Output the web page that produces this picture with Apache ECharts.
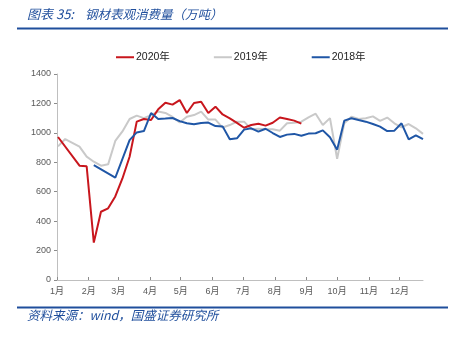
<!DOCTYPE html>
<html>
<head>
<meta charset="utf-8">
<script src="https://cdn.jsdelivr.net/npm/echarts@6/dist/echarts.min.js"></script>
<style>
  html, body { margin: 0; padding: 0; background: #fff; }
  #chart { width: 467px; height: 339px; }
</style>
</head>
<body>
<div id="chart"></div>
<script>
// Weekly apparent steel consumption (10k tonnes), plotted on a shared Jan–Dec calendar
const monthLabels = ['1月', '2月', '3月', '4月', '5月', '6月', '7月', '8月', '9月', '10月', '11月', '12月'];
const yTicks = [0, 200, 400, 600, 800, 1000, 1200, 1400];

const dates2020 = ['01-02', '01-23', '01-30', '02-06', '02-13', '02-20', '02-27', '03-05', '03-12', '03-19',
  '03-26', '04-02', '04-09', '04-16', '04-23', '04-30', '05-07', '05-14', '05-21', '05-28', '06-04',
  '06-11', '06-18', '06-25', '07-02', '07-09', '07-16', '07-23', '07-30', '08-06', '08-13', '08-20', '08-27'];
const values2020 = [972, 777, 773, 254, 464, 487, 568, 690, 838, 1076,
  1094, 1087, 1160, 1205, 1192, 1223, 1135, 1203, 1212, 1135, 1178,
  1125, 1099, 1068, 1035, 1053, 1062, 1049, 1069, 1104, 1094, 1083, 1063];

const dates2019 = ['01-02', '01-09', '01-23', '01-30', '02-06', '02-13', '02-20', '02-27', '03-05', '03-12',
  '03-19', '03-26', '04-02', '04-09', '04-16', '04-23', '04-30', '05-07', '05-14', '05-21', '05-28',
  '06-04', '06-11', '06-18', '06-25', '07-02', '07-09', '07-16', '07-23', '07-30', '08-06', '08-13',
  '08-20', '08-27', '09-03', '09-10', '09-17', '09-24', '10-01', '10-08', '10-15', '10-22', '10-29',
  '11-05', '11-12', '11-19', '11-26', '12-03', '12-10', '12-17', '12-24'];
const values2019 = [908, 958, 906, 838, 804, 777, 786, 945, 1010, 1094,
  1117, 1100, 1121, 1145, 1135, 1108, 1070, 1110, 1121, 1144, 1090,
  1090, 1036, 1053, 1076, 1076, 1025, 1028, 1025, 1025, 1015, 1065,
  1069, 1076, 1105, 1130, 1053, 1100, 824, 1065, 1110, 1094, 1099,
  1112, 1082, 1104, 1065, 1038, 1060, 1031, 993];

const dates2018 = ['02-06', '02-27', '03-12', '03-19', '03-26', '04-02', '04-09', '04-16', '04-23', '04-30',
  '05-07', '05-14', '05-21', '05-28', '06-04', '06-11', '06-18', '06-25', '07-02', '07-09', '07-16',
  '07-23', '07-30', '08-06', '08-13', '08-20', '08-27', '09-03', '09-10', '09-17', '09-24', '10-01',
  '10-08', '10-15', '10-22', '10-29', '11-05', '11-12', '11-19', '11-26', '12-03', '12-10', '12-17', '12-24'];
const values2018 = [780, 695, 951, 1003, 1012, 1135, 1094, 1097, 1101, 1080,
  1065, 1058, 1067, 1070, 1046, 1044, 956, 963, 1022, 1031, 1008,
  1028, 999, 972, 988, 993, 980, 995, 997, 1017, 970, 886,
  1083, 1099, 1087, 1076, 1060, 1042, 1012, 1015, 1065, 956, 983, 957];

const seriesNames = ['2020年', '2019年', '2018年'];
const seriesColors = ['#c8161d', '#c9c9c9', '#1f56a6'];

// every year is laid on the same calendar so the weeks line up
const BASE_YEAR = 2020;
const DAY = 24 * 3600 * 1000;
const yearStart = Date.UTC(BASE_YEAR, 0, 1);
function dayOf(month, day) {
  return (Date.UTC(BASE_YEAR, month - 1, day) - yearStart) / DAY;
}
function toPoints(dates, values) {
  return dates.map(function (md, i) {
    const p = md.split('-');
    return [dayOf(+p[0], +p[1]), values[i]];
  });
}
const monthStarts = monthLabels.map(function (_, i) { return dayOf(i + 1, 1); });

const chart = echarts.init(document.getElementById('chart'), null, { renderer: 'canvas' });
const labelFont = '"Liberation Sans", "Noto Sans CJK SC", sans-serif';
const noteColor = '#1f4e9c';

chart.setOption({
  animation: false,
  backgroundColor: '#ffffff',
  textStyle: { fontFamily: labelFont },
  graphic: [
    { type: 'text', left: 27, top: 8, style: { text: '图表 35:', fill: noteColor, font: 'italic 13px "Noto Sans CJK SC"' } },
    { type: 'text', left: 85, top: 8, style: { text: '钢材表观消费量（万吨）', fill: noteColor, font: 'italic 12.5px "Noto Sans CJK SC"' } },
    { type: 'rect', shape: { x: 17, y: 27.5, width: 431, height: 2 }, style: { fill: noteColor } },
    { type: 'rect', shape: { x: 17, y: 306.5, width: 431, height: 2 }, style: { fill: noteColor } },
    { type: 'text', left: 27, top: 309, style: { text: '资料来源：wind，国盛证券研究所', fill: noteColor, font: 'italic 12.5px "Noto Sans CJK SC"' } }
  ],
  legend: {
    data: seriesNames,
    left: 116,
    top: 52,
    padding: 0,
    itemWidth: 18,
    itemHeight: 2,
    itemGap: 44,
    icon: 'rect',
    textStyle: { fontSize: 10.5, color: '#222', fontFamily: labelFont, padding: [0, 0, 0, -3] }
  },
  grid: { left: 57, right: 44, top: 74, bottom: 59, containLabel: false },
  xAxis: {
    type: 'value',
    min: dayOf(1, 1),
    max: dayOf(12, 24),
    axisLine: { lineStyle: { color: '#bfbfbf', width: 1 } },
    axisTick: { show: true, inside: true, length: 3, customValues: monthStarts, lineStyle: { color: '#8c8c8c' } },
    axisLabel: {
      customValues: monthStarts,
      fontSize: 9,
      color: '#595959',
      margin: 7,
      formatter: function (v) { return monthLabels[monthStarts.indexOf(v)] || ''; }
    },
    splitLine: { show: false }
  },
  yAxis: {
    type: 'value',
    min: yTicks[0],
    max: yTicks[yTicks.length - 1],
    interval: yTicks[1] - yTicks[0],
    axisLine: { show: true, lineStyle: { color: '#bfbfbf', width: 1 } },
    axisTick: { show: true, length: 3, lineStyle: { color: '#8c8c8c' } },
    axisLabel: { fontSize: 9, color: '#595959', margin: 6, formatter: function (v) { return String(v); } },
    splitLine: { show: false }
  },
  series: [
    { name: seriesNames[0], data: toPoints(dates2020, values2020), z: 3 },
    { name: seriesNames[1], data: toPoints(dates2019, values2019), z: 2 },
    { name: seriesNames[2], data: toPoints(dates2018, values2018), z: 4 }
  ].map(function (s, i) {
    return Object.assign({
      type: 'line',
      showSymbol: false,
      symbol: 'none',
      lineStyle: { width: 2, color: seriesColors[i] },
      itemStyle: { color: seriesColors[i] }
    }, s);
  })
});
</script>
</body>
</html>
